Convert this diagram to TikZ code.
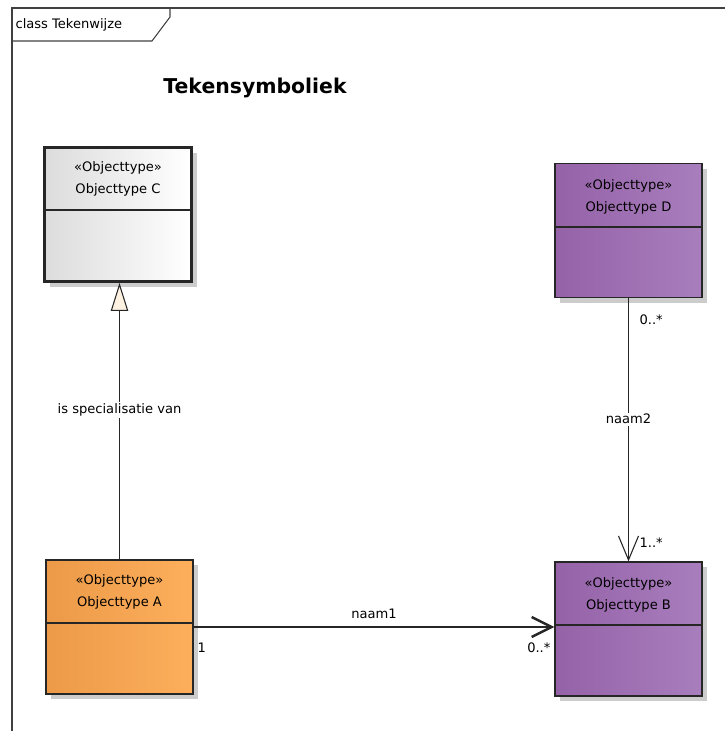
\documentclass[tikz,border=0pt]{standalone}
\usepackage{fontspec}
\setmainfont{DejaVu Sans}
\usetikzlibrary{arrows.meta,shadows,positioning}

\definecolor{frameline}{HTML}{404040}
\definecolor{orangeL}{HTML}{EC9A48}
\definecolor{orangeR}{HTML}{FDAF5C}
\definecolor{purpleL}{HTML}{9562A8}
\definecolor{purpleR}{HTML}{A87EBD}
\definecolor{grayL}{HTML}{DCDCDC}
\definecolor{cream}{HTML}{FDF1E2}

\begin{document}
\begin{tikzpicture}
		[
			x=0.75pt, y=-0.75pt,
			font=\fontsize{9.8}{12}\selectfont,
			objbox/.style={draw=black!85, line width=1pt, minimum width=110.25pt,
				minimum height=100.5pt, inner sep=0pt,
				drop shadow={shadow xshift=4pt, shadow yshift=-4pt, fill=black!20, opacity=1}},
			label/.style={draw=none, fill=none, inner sep=1pt},
			assoc/.style={draw=black!85, line width=0.8pt},
			gener/.style={draw=black!85, line width=0.8pt,
				-{Triangle[open, fill=cream, length=21pt, width=13pt]}}
		]

		\useasboundingbox (0,0) rectangle (725,731);

		% frame
		\draw[frameline, line width=1.1pt] (12,731) -- (12,8) -- (725,8);
		\draw[frameline, line width=0.8pt] (12,41) -- (152,41) -- (170,17) -- (170,8);
		\node[label, anchor=west] (frame) at (14,25) {class Tekenwijze};

		% title
		\node[label] (title) at (255,88) {\fontsize{15.3}{18}\selectfont\bfseries Tekensymboliek};

		% object types
		\node[objbox, line width=2pt, left color=grayL, right color=white] (C) at (118,214.5) {};
		\node[objbox, left color=purpleL, right color=purpleR] (D) at (628.5,230.5) {};
		\node[objbox, left color=orangeL, right color=orangeR] (A) at (119.5,627) {};
		\node[objbox, left color=purpleL, right color=purpleR] (B) at (628.5,629) {};

		% compartments
		\draw[black!85, line width=2pt] (C.west |- 0,210) -- (C.east |- 0,210);
		\draw[black!85, line width=1pt] (D.west |- 0,227) -- (D.east |- 0,227);
		\draw[black!85, line width=1pt] (A.west |- 0,623) -- (A.east |- 0,623);
		\draw[black!85, line width=1pt] (B.west |- 0,625) -- (B.east |- 0,625);

		% names
		\node[label, align=center] (Cname) at (118,179) {«Objecttype»\\[5pt]Objecttype C};
		\node[label, align=center] (Dname) at (628.5,197) {«Objecttype»\\[5pt]Objecttype D};
		\node[label, align=center] (Aname) at (119.5,592) {«Objecttype»\\[5pt]Objecttype A};
		\node[label, align=center] (Bname) at (628.5,595) {«Objecttype»\\[5pt]Objecttype B};

		% generalization
		\draw[gener] (A.north) -- node[label, fill=white, pos=0.54] (spec) {is specialisatie van} (A.north |- C.south);

		% associations
		\draw[assoc, -{Straight Barb[length=18pt, width=15pt]}] (D.south)
			-- node[label, fill=white, pos=0.46] (naam2) {naam2} (B.north);
		\node[label, anchor=west] (Dmult) at (638,320) {0..*};
		\node[label, anchor=west] (Bmult2) at (638,543) {1..*};

		\draw[assoc, line width=1.8pt, -{Straight Barb[length=15pt, width=15pt]}] (A.east)
			-- node[label, above=4pt] (naam1) {naam1} (A.east -| B.west);
		\node[label, anchor=west] (Amult) at (196,648) {1};
		\node[label, anchor=east] (Bmult1) at (552,648) {0..*};

	\end{tikzpicture}
\end{document}
